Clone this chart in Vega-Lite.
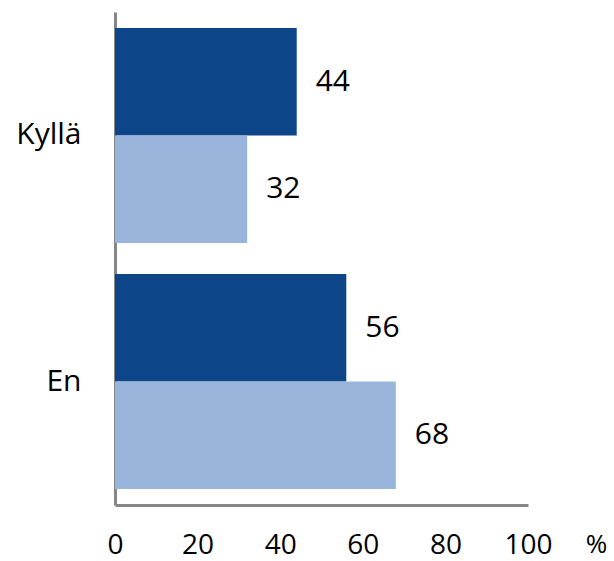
{
  "$schema": "https://vega.github.io/schema/vega-lite/v6.json",
  "autosize": "none",
  "width": 413,
  "height": 493,
  "padding": {"left": 115, "top": 12, "right": 86, "bottom": 56},
  "background": "white",
  "data": {
    "values": [
      {"vastaus": "Kyllä", "sarja": "1", "arvo": 44},
      {"vastaus": "Kyllä", "sarja": "2", "arvo": 32},
      {"vastaus": "En", "sarja": "1", "arvo": 56},
      {"vastaus": "En", "sarja": "2", "arvo": 68}
    ]
  },
  "config": {
    "view": {"stroke": null},
    "font": "Open Sans",
    "axis": {"grid": false, "ticks": false, "domainColor": "#868686", "domainWidth": 3, "labelColor": "black", "labelFont": "Open Sans"}
  },
  "encoding": {
    "y": {
      "field": "vastaus", "type": "nominal", "sort": ["Kyllä", "En"],
      "scale": {"paddingInner": 0.126, "paddingOuter": 0.065},
      "axis": {"title": null, "labelPadding": 34, "labelFontSize": 30}
    },
    "yOffset": {"field": "sarja", "type": "nominal", "sort": ["1", "2"], "scale": {"paddingInner": 0, "paddingOuter": 0}},
    "x": {
      "field": "arvo", "type": "quantitative",
      "scale": {"domain": [0, 100], "nice": false},
      "axis": {"values": [0, 20, 40, 60, 80, 100], "labelPadding": 26, "labelFontSize": 28, "title": "%", "titleFont": "Open Sans", "titleFontSize": 26, "titleFontWeight": "normal", "titleColor": "black", "titleX": 481, "titleY": 26, "titleBaseline": "top", "titleAlign": "center", "labelFlush": false}
    }
  },
  "layer": [
    {
      "mark": {"type": "bar"},
      "encoding": {
        "color": {"field": "sarja", "type": "nominal", "scale": {"domain": ["1", "2"], "range": ["#0c4689", "#9ab5db"]}, "legend": null}
      }
    },
    {
      "mark": {"type": "text", "align": "left", "dx": 19, "fontSize": 30, "font": "Open Sans", "color": "black"},
      "encoding": {"text": {"field": "arvo", "type": "quantitative"}}
    }
  ]
}
